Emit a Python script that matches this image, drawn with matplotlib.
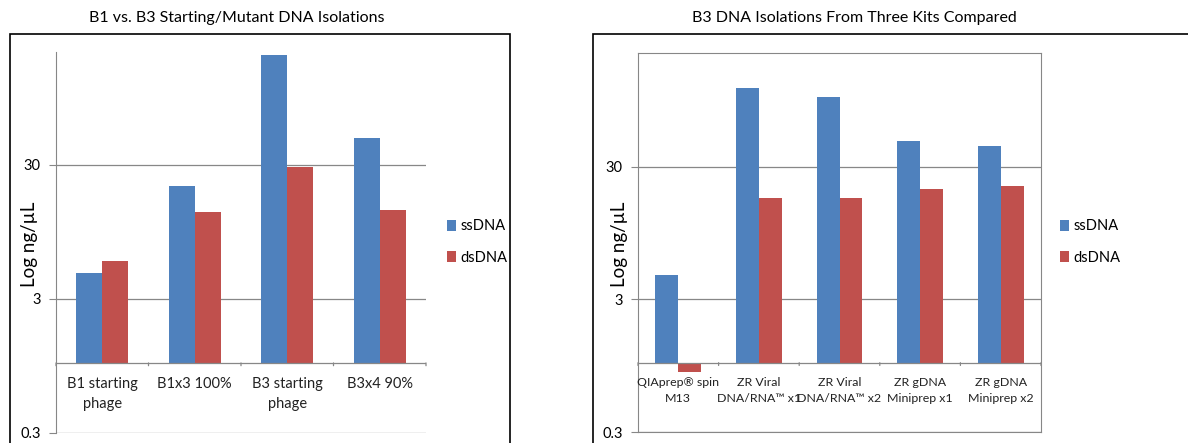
import numpy as np
import matplotlib
matplotlib.use("Agg")
import matplotlib.pyplot as plt
from matplotlib.patches import Rectangle

plt.rcParams['font.family'] = ['Lato', 'DejaVu Sans']

# ---- data ----
left_title = "B1 vs. B3 Starting/Mutant DNA Isolations"
left_cats = ["B1 starting\nphage", "B1x3 100%", "B3 starting\nphage", "B3x4 90%"]
left_ss = [4.66, 20.8, 199.6, 47.7]
left_ds = [5.79, 13.4, 29.1, 13.8]

right_title = "B3 DNA Isolations From Three Kits Compared"
right_cats = ["QIAprep® spin\nM13", "ZR Viral\nDNA/RNA™ x1", "ZR Viral\nDNA/RNA™ x2",
              "ZR gDNA\nMiniprep x1", "ZR gDNA\nMiniprep x2"]
right_ss = [4.55, 118.6, 101.4, 47.4, 43.4]
right_ds = [0.855, 17.6, 17.4, 20.3, 21.4]

series_names = ["ssDNA", "dsDNA"]
yticks = [0.3, 3, 30]
ytick_labels = ["0.3", "3", "30"]
ylabel = "Log ng/µL"
base = 1.0

BLUE = "#4F81BD"
RED = "#C0504D"
GRID = "#878787"

W, H = 1188, 443
fig = plt.figure(figsize=(W / 100, H / 100), dpi=100)


def px_axes(x0, y0, x1, y1):
    return fig.add_axes([x0 / W, (H - y1) / H, (x1 - x0) / W, (y1 - y0) / H])


def draw_panel(ax, cats, ss, ds, ytop, boxed, bw, catsize):
    n = len(cats)
    x = np.arange(n)
    ss = np.array(ss)
    ds = np.array(ds)
    b1 = ax.bar(x - bw / 2, ss - base, bottom=base, width=bw, color=BLUE,
                label=series_names[0], zorder=3)
    b2 = ax.bar(x + bw / 2, ds - base, bottom=base, width=bw, color=RED,
                label=series_names[1], zorder=3)
    ax.set_yscale('log')
    ax.set_ylim(0.3, ytop)
    ax.set_xlim(-0.5, n - 0.5)
    ax.set_yticks(yticks)
    ax.set_yticklabels(ytick_labels)
    ax.yaxis.set_minor_locator(matplotlib.ticker.NullLocator())
    ax.tick_params(axis='y', length=5, color=GRID, labelsize=10.5, pad=6)
    ax.tick_params(axis='x', bottom=False, labelbottom=False)
    ax.set_xticks([])
    for t in yticks:
        ax.axhline(t, color=GRID, lw=0.9, zorder=1)
    # category axis line at base
    ax.axhline(base, color=GRID, lw=0.9, zorder=4)
    for b in np.arange(n + 1) - 0.5:
        ax.annotate("", xy=(b, base), xycoords='data', xytext=(0, -4),
                    textcoords='offset points',
                    arrowprops=dict(arrowstyle='-', color=GRID, lw=0.9))
    for i, c in enumerate(cats):
        ax.annotate(c, xy=(i, base), xycoords='data', xytext=(0, -10),
                    textcoords='offset points', ha='center', va='top',
                    fontsize=catsize, linespacing=1.55, color='#222222')
    for s in ['top', 'right', 'bottom']:
        ax.spines[s].set_visible(boxed)
        ax.spines[s].set_color(GRID)
    ax.spines['left'].set_color(GRID)
    return b1, b2


# panel frames
fig.add_artist(Rectangle((10 / W, -0.05), 500 / W, (H - 34) / H + 0.05,
                         transform=fig.transFigure, fill=False, ec='black', lw=1.2))
fig.add_artist(Rectangle((593 / W, -0.05), 600 / W, (H - 34) / H + 0.05,
                         transform=fig.transFigure, fill=False, ec='black', lw=1.2))

axL = px_axes(56, 52, 426, 433)
bl = draw_panel(axL, left_cats, left_ss, left_ds, 209, False, 0.28, 10.5)
axR = px_axes(638, 53, 1041, 432)
br = draw_panel(axR, right_cats, right_ss, right_ds, 217, True, 0.285, 8.9)

fig.text(237 / W, (H - 18) / H, left_title, ha='center', va='center', fontsize=11.5)
fig.text(854 / W, (H - 18) / H, right_title, ha='center', va='center', fontsize=11.5)

fig.text(30 / W, (H - 244) / H, ylabel, rotation=90, ha='center', va='center', fontsize=13.5)
fig.text(620 / W, (H - 244) / H, ylabel, rotation=90, ha='center', va='center', fontsize=13.5)

for (xl, handles) in [(447, bl), (1060, br)]:
    fig.legend(handles, series_names, loc='center left',
               bbox_to_anchor=(xl / W, (H - 242) / H), frameon=False,
               fontsize=10.5, handlelength=0.6, handleheight=0.8,
               handletextpad=0.3, labelspacing=1.2, borderpad=0, borderaxespad=0)

fig.savefig("out.png", dpi=100)
